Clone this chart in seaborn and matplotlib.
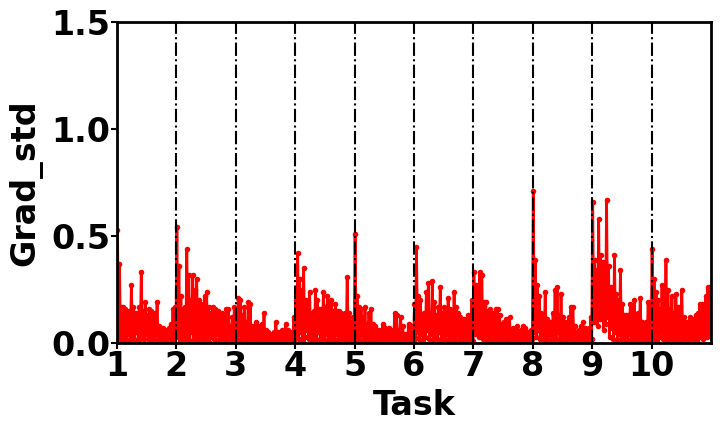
import numpy as np
import pandas as pd
import matplotlib
matplotlib.use("Agg")
import matplotlib.pyplot as plt
import seaborn as sns

# upper values (spikes) of Grad_std for each task
grad_t1 = [0.53, 0.37, 0.17, 0.17, 0.16, 0.14, 0.15, 0.27, 0.17, 0.14, 0.14, 0.17, 0.33, 0.15, 0.19,
           0.13, 0.16, 0.15, 0.12, 0.14, 0.19, 0.08, 0.07, 0.07, 0.06, 0.06, 0.07, 0.09, 0.16, 0.17]
grad_t2 = [0.54, 0.36, 0.22, 0.16, 0.17, 0.44, 0.32, 0.20, 0.32, 0.25, 0.30, 0.20, 0.18, 0.17, 0.22,
           0.24, 0.17, 0.14, 0.17, 0.16, 0.14, 0.15, 0.13, 0.14, 0.12, 0.16, 0.16, 0.08, 0.12, 0.17]
grad_t3 = [0.12, 0.21, 0.20, 0.13, 0.17, 0.10, 0.19, 0.18, 0.08, 0.08, 0.10, 0.08, 0.07, 0.09, 0.14,
           0.06, 0.05, 0.03, 0.04, 0.05, 0.10, 0.05, 0.05, 0.06, 0.05, 0.09, 0.06, 0.04, 0.05, 0.12]
grad_t4 = [0.20, 0.42, 0.30, 0.25, 0.35, 0.20, 0.19, 0.24, 0.14, 0.15, 0.25, 0.20, 0.16, 0.16, 0.24,
           0.17, 0.22, 0.18, 0.20, 0.15, 0.18, 0.15, 0.15, 0.14, 0.12, 0.14, 0.31, 0.14, 0.10, 0.12]
grad_t5 = [0.51, 0.22, 0.17, 0.16, 0.12, 0.17, 0.09, 0.14, 0.16, 0.09, 0.08, 0.06, 0.06, 0.05, 0.09,
           0.07, 0.06, 0.07, 0.06, 0.05, 0.14, 0.13, 0.06, 0.12, 0.08, 0.04, 0.04, 0.09, 0.08, 0.04]
grad_t6 = [0.18, 0.45, 0.22, 0.20, 0.13, 0.14, 0.24, 0.28, 0.14, 0.29, 0.19, 0.13, 0.17, 0.26, 0.14,
           0.17, 0.15, 0.21, 0.16, 0.14, 0.24, 0.17, 0.14, 0.12, 0.10, 0.11, 0.10, 0.13, 0.12, 0.20]
grad_t7 = [0.33, 0.27, 0.26, 0.33, 0.32, 0.19, 0.19, 0.15, 0.16, 0.14, 0.14, 0.16, 0.16, 0.13, 0.09,
           0.10, 0.11, 0.11, 0.12, 0.06, 0.07, 0.06, 0.08, 0.05, 0.06, 0.08, 0.07, 0.05, 0.05, 0.06]
grad_t8 = [0.71, 0.39, 0.27, 0.22, 0.14, 0.12, 0.24, 0.11, 0.10, 0.10, 0.14, 0.25, 0.26, 0.13, 0.23,
           0.12, 0.10, 0.10, 0.12, 0.17, 0.17, 0.08, 0.05, 0.06, 0.08, 0.10, 0.07, 0.05, 0.07, 0.12]
grad_t9 = [0.66, 0.39, 0.34, 0.58, 0.41, 0.38, 0.38, 0.67, 0.36, 0.26, 0.25, 0.41, 0.23, 0.20, 0.34,
           0.18, 0.13, 0.13, 0.13, 0.18, 0.17, 0.20, 0.12, 0.14, 0.21, 0.10, 0.09, 0.10, 0.19, 0.18]
grad_t10 = [0.44, 0.30, 0.24, 0.20, 0.16, 0.27, 0.25, 0.39, 0.25, 0.16, 0.22, 0.14, 0.23, 0.17, 0.17,
            0.25, 0.12, 0.10, 0.10, 0.12, 0.11, 0.10, 0.13, 0.14, 0.18, 0.18, 0.18, 0.22, 0.26, 0.26]

# lower values between the spikes
low_t1 = [0.02, 0.01, 0.03, 0.00, 0.02, 0.04, 0.01, 0.03, 0.02, 0.05, 0.01, 0.02, 0.03, 0.00, 0.04,
          0.02, 0.01, 0.03, 0.02, 0.04, 0.01, 0.02, 0.03, 0.01, 0.02, 0.00, 0.03, 0.01, 0.02, 0.04]
low_t2 = [0.03, 0.01, 0.02, 0.04, 0.00, 0.02, 0.01, 0.05, 0.02, 0.03, 0.01, 0.02, 0.04, 0.01, 0.03,
          0.02, 0.00, 0.03, 0.02, 0.01, 0.04, 0.02, 0.01, 0.03, 0.02, 0.01, 0.03, 0.02, 0.01, 0.02]
low_t3 = [0.02, 0.04, 0.01, 0.03, 0.02, 0.01, 0.03, 0.00, 0.02, 0.01, 0.03, 0.02, 0.01, 0.02, 0.00,
          0.01, 0.02, 0.01, 0.00, 0.02, 0.01, 0.02, 0.01, 0.00, 0.02, 0.01, 0.02, 0.01, 0.00, 0.02]
low_t4 = [0.04, 0.02, 0.05, 0.01, 0.03, 0.06, 0.02, 0.04, 0.01, 0.03, 0.02, 0.05, 0.01, 0.03, 0.02,
          0.04, 0.01, 0.02, 0.03, 0.01, 0.04, 0.02, 0.01, 0.03, 0.02, 0.01, 0.03, 0.02, 0.01, 0.02]
low_t5 = [0.02, 0.03, 0.01, 0.04, 0.02, 0.01, 0.03, 0.02, 0.00, 0.02, 0.01, 0.02, 0.00, 0.01, 0.02,
          0.01, 0.00, 0.02, 0.01, 0.02, 0.01, 0.00, 0.02, 0.01, 0.02, 0.01, 0.00, 0.01, 0.02, 0.01]
low_t6 = [0.03, 0.05, 0.02, 0.04, 0.01, 0.03, 0.06, 0.02, 0.04, 0.01, 0.03, 0.02, 0.05, 0.01, 0.03,
          0.02, 0.04, 0.01, 0.03, 0.02, 0.01, 0.04, 0.02, 0.01, 0.03, 0.02, 0.01, 0.03, 0.02, 0.01]
low_t7 = [0.04, 0.06, 0.03, 0.05, 0.02, 0.04, 0.01, 0.03, 0.02, 0.04, 0.01, 0.03, 0.02, 0.01, 0.03,
          0.02, 0.01, 0.02, 0.00, 0.02, 0.01, 0.02, 0.01, 0.00, 0.02, 0.01, 0.02, 0.01, 0.00, 0.02]
low_t8 = [0.05, 0.03, 0.06, 0.02, 0.04, 0.01, 0.03, 0.02, 0.04, 0.01, 0.03, 0.02, 0.05, 0.01, 0.03,
          0.02, 0.01, 0.03, 0.02, 0.04, 0.01, 0.02, 0.01, 0.00, 0.02, 0.01, 0.02, 0.01, 0.00, 0.02]
low_t9 = [0.10, 0.12, 0.08, 0.11, 0.13, 0.06, 0.09, 0.12, 0.03, 0.07, 0.02, 0.05, 0.01, 0.04, 0.02,
          0.03, 0.01, 0.02, 0.04, 0.01, 0.03, 0.02, 0.01, 0.03, 0.02, 0.01, 0.02, 0.01, 0.03, 0.02]
low_t10 = [0.02, 0.04, 0.01, 0.03, 0.05, 0.02, 0.04, 0.01, 0.03, 0.02, 0.04, 0.01, 0.03, 0.02, 0.01,
           0.03, 0.02, 0.04, 0.01, 0.03, 0.02, 0.04, 0.01, 0.03, 0.05, 0.02, 0.04, 0.03, 0.05, 0.04]

tasks = list(range(1, 11))
task_ticks = [1, 2, 3, 4, 5, 6, 7, 8, 9, 10]
y_ticks = [0.0, 0.5, 1.0, 1.5]

peaks = [grad_t1, grad_t2, grad_t3, grad_t4, grad_t5, grad_t6, grad_t7, grad_t8, grad_t9, grad_t10]
lows = [low_t1, low_t2, low_t3, low_t4, low_t5, low_t6, low_t7, low_t8, low_t9, low_t10]

rows = []
for t, p, l in zip(tasks, peaks, lows):
    vals = np.column_stack([p, l]).ravel()
    n = len(vals)
    for i, v in enumerate(vals):
        rows.append((t + (i + 0.5) / n, v))
df = pd.DataFrame(rows, columns=["task", "grad_std"])

sns.set_style("ticks")
plt.rcParams["font.family"] = ["DejaVu Sans"]
plt.rcParams["font.weight"] = "bold"
plt.rcParams["axes.labelweight"] = "bold"
plt.rcParams["text.color"] = "black"
plt.rcParams["axes.labelcolor"] = "black"
plt.rcParams["xtick.color"] = "black"
plt.rcParams["ytick.color"] = "black"

fig, ax = plt.subplots(figsize=(7.2, 4.32), dpi=100)
fig.subplots_adjust(left=0.1625, right=0.9875, top=0.949, bottom=0.206)

sns.lineplot(data=df, x="task", y="grad_std", ax=ax, color="red", linewidth=2.0,
             marker="o", markersize=4, markeredgewidth=0, estimator=None, sort=False)

for t in tasks[1:]:
    ax.axvline(t, color="black", linestyle="-.", linewidth=1.5, zorder=3)

ax.set_xlim(1, 11)
ax.set_ylim(0, 1.5)
ax.set_xticks(task_ticks)
ax.set_yticks(y_ticks)
ax.set_xlabel("Task", fontsize=24, fontweight="bold", labelpad=4)
ax.set_ylabel("Grad_std", fontsize=24, fontweight="bold", labelpad=6)
ax.tick_params(axis="both", labelsize=24, length=4, width=1.5, pad=1, colors="black")
for lab in ax.get_xticklabels() + ax.get_yticklabels():
    lab.set_fontweight("bold")
for s in ax.spines.values():
    s.set_linewidth(2)
    s.set_color("black")

fig.savefig("out.png", dpi=100)
